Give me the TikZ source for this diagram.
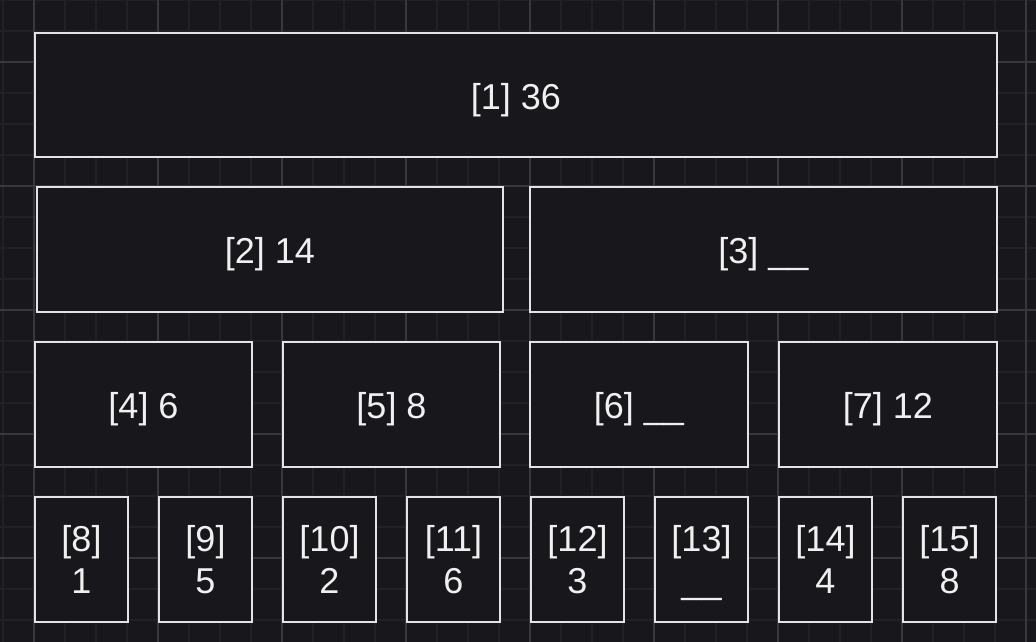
\documentclass[tikz,border=0pt]{standalone}
\usepackage{fontspec}
\setmainfont{Liberation Sans}
\definecolor{bgc}{HTML}{18171C}
\definecolor{minorc}{HTML}{222127}
\definecolor{majorc}{HTML}{38373C}
\definecolor{edgec}{HTML}{E4E4E4}
\definecolor{txtc}{HTML}{F0F0F0}
\tikzset{
  cell/.style={draw=edgec, fill=bgc, line width=2.7pt, inner sep=0pt, align=center,
    text=txtc, font=\fontsize{36}{42}\selectfont},
  onecell/.style={cell, text height=35pt, text depth=7pt},
  minorline/.style={draw=minorc, line width=1.2pt},
  majorline/.style={draw=majorc, line width=1.2pt}
}
\newcommand{\bx}[7]{%
  \pgfmathsetmacro{\bw}{#5-#3}%
  \pgfmathsetmacro{\bh}{#6-#4}%
  \node[#1, minimum width=\bw pt, minimum height=\bh pt] (#2) at ({(#3+#5)/2},{(#4+#6)/2}) {#7};%
}
\begin{document}
\begin{tikzpicture}[x=1pt,y=-1pt]
\useasboundingbox (0,0) rectangle (1036,642);
\fill[bgc] (0,0) rectangle (1036,642);
\foreach \x in {3,34,...,1036} \draw[minorline] (\x,0) -- (\x,642);
\foreach \y in {0,31,...,642} \draw[minorline] (0,\y) -- (1036,\y);
\foreach \x in {34,158,...,1036} \draw[majorline] (\x,0) -- (\x,642);
\foreach \y in {62,186,...,642} \draw[majorline] (0,\y) -- (1036,\y);
% row 1
\bx{onecell}{n1}{35}{33}{997}{157}{[1] 36}
% row 2
\bx{onecell}{n2}{37}{187}{503}{312}{[2] 14}
\bx{onecell}{n3}{530}{187}{997}{312}{[3] \_\_}
% row 3
\bx{onecell}{n4}{35}{342}{252}{467}{[4] 6}
\bx{onecell}{n5}{283}{342}{500}{467}{[5] 8}
\bx{onecell}{n6}{530}{342}{748}{467}{[6] \_\_}
\bx{onecell}{n7}{779}{342}{997}{467}{[7] 12}
% row 4
\bx{cell}{n8}{35}{497}{128}{622}{[8]\\1}
\bx{cell}{n9}{159}{497}{252}{622}{[9]\\5}
\bx{cell}{n10}{283}{497}{376}{622}{[10]\\2}
\bx{cell}{n11}{407}{497}{500}{622}{[11]\\6}
\bx{cell}{n12}{531}{497}{624}{622}{[12]\\3}
\bx{cell}{n13}{655}{497}{748}{622}{[13]\\\smash{\_\_}}
\bx{cell}{n14}{779}{497}{872}{622}{[14]\\4}
\bx{cell}{n15}{903}{497}{996}{622}{[15]\\8}
\end{tikzpicture}
\end{document}
